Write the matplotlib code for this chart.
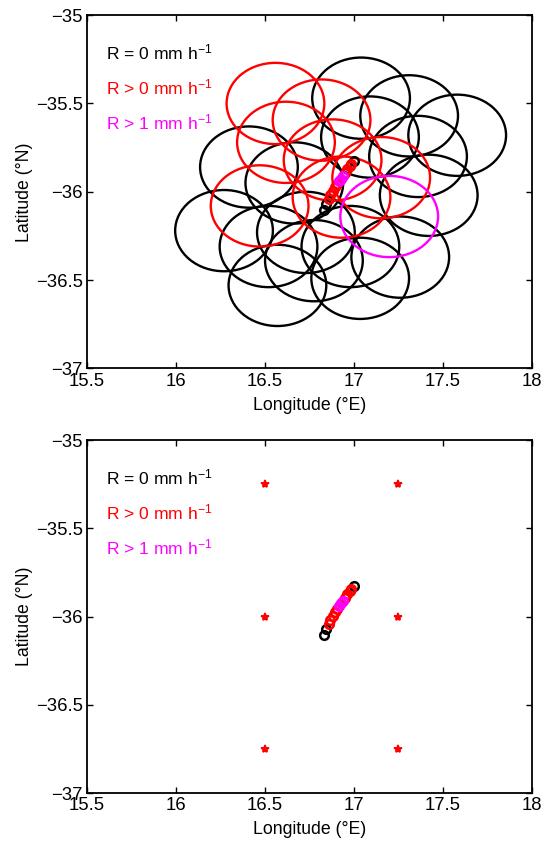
import numpy as np
import matplotlib
matplotlib.use('Agg')
import matplotlib.pyplot as plt
from matplotlib.patches import Ellipse

plt.rcParams['font.family'] = ['Liberation Sans', 'DejaVu Sans']
plt.rcParams['mathtext.fontset'] = 'custom'
plt.rcParams['mathtext.rm'] = 'Liberation Sans'
plt.rcParams['mathtext.it'] = 'Liberation Sans:italic'

# footprint centres (lon, lat) and rain class
black_lon = [17.04, 17.31, 17.58, 17.09, 17.36, 17.42, 16.41, 16.665,
             16.27, 16.52, 16.73, 16.57, 16.775, 16.98, 17.035, 17.26]
black_lat = [-35.47, -35.57, -35.68, -35.69, -35.80, -36.02, -35.86, -35.95,
             -36.22, -36.31, -36.23, -36.53, -36.39, -36.31, -36.49, -36.37]
red_lon = [16.559, 16.818, 16.618, 16.88, 17.153, 16.47, 16.93]
red_lat = [-35.50, -35.594, -35.72, -35.82, -35.92, -36.08, -36.03]
mag_lon = [17.198]
mag_lat = [-36.14]

# track points
track_lon = [16.829, 16.842, 16.858, 16.868, 16.880, 16.892, 16.903, 16.914,
             16.926, 16.938, 16.951, 16.963, 16.975, 16.986, 17.000]
track_lat = [-36.104, -36.072, -36.040, -36.020, -35.996, -35.975, -35.955,
             -35.940, -35.925, -35.910, -35.893, -35.872, -35.853, -35.842, -35.826]
track_cls = [0, 0, 1, 1, 1, 1, 1, 2, 2, 2, 1, 1, 1, 1, 0]

# grid points in lower panel
grid_lon = [16.5, 17.25, 16.5, 17.25, 16.5, 17.25]
grid_lat = [-35.25, -35.25, -36.0, -36.0, -36.75, -36.75]

labels = ['R = 0 mm h$^{-1}$', 'R > 0 mm h$^{-1}$', 'R > 1 mm h$^{-1}$']
cls_colors = ['black', 'red', 'magenta']

ell_w, ell_h = 0.549, 0.46


def style_axes(ax):
    ax.set_xlim(15.5, 18)
    ax.set_ylim(-37, -35)
    ax.set_xticks([15.5, 16, 16.5, 17, 17.5, 18])
    ax.set_xticklabels(['15.5', '16', '16.5', '17', '17.5', '18'])
    ax.set_yticks([-37, -36.5, -36, -35.5, -35])
    ax.set_yticklabels(['\u221237', '\u221236.5', '\u221236', '\u221235.5', '\u221235'])
    ax.tick_params(direction='in', top=True, right=True, labelsize=13.3,
                   length=4, width=1, pad=3)
    for s in ax.spines.values():
        s.set_linewidth(1.3)
    ax.set_xlabel('Longitude (\u00b0E)', fontsize=12.7, labelpad=5)
    ax.set_ylabel('Latitude (\u00b0N)', fontsize=12.7, labelpad=2)
    for k in range(3):
        ax.text(15.608, -35.21 - 0.2 * k, labels[k], color=cls_colors[k],
                fontsize=12.6, va='center', ha='left')


def draw_track(ax):
    for k in range(3):
        xs = [x for x, c in zip(track_lon, track_cls) if c == k]
        ys = [y for y, c in zip(track_lat, track_cls) if c == k]
        ax.plot(xs, ys, 'o', mfc='none', mec=cls_colors[k], ms=6.2, mew=1.8,
                zorder=5)


fig = plt.figure(figsize=(5.47, 8.43), dpi=100)
ax1 = fig.add_axes([0.159, 0.563, 0.8135, 0.419])
ax2 = fig.add_axes([0.159, 0.059, 0.8135, 0.419])

for lons, lats, col in [(black_lon, black_lat, 'black'),
                        (red_lon, red_lat, 'red'),
                        (mag_lon, mag_lat, 'magenta')]:
    for x, y in zip(lons, lats):
        ax1.add_patch(Ellipse((x, y), ell_w, ell_h, fill=False,
                              edgecolor=col, lw=1.7))
draw_track(ax1)
style_axes(ax1)

ax2.plot(grid_lon, grid_lat, '*', color='red', ms=6, mew=1.2)
draw_track(ax2)
style_axes(ax2)

fig.savefig('out.png', dpi=100)
